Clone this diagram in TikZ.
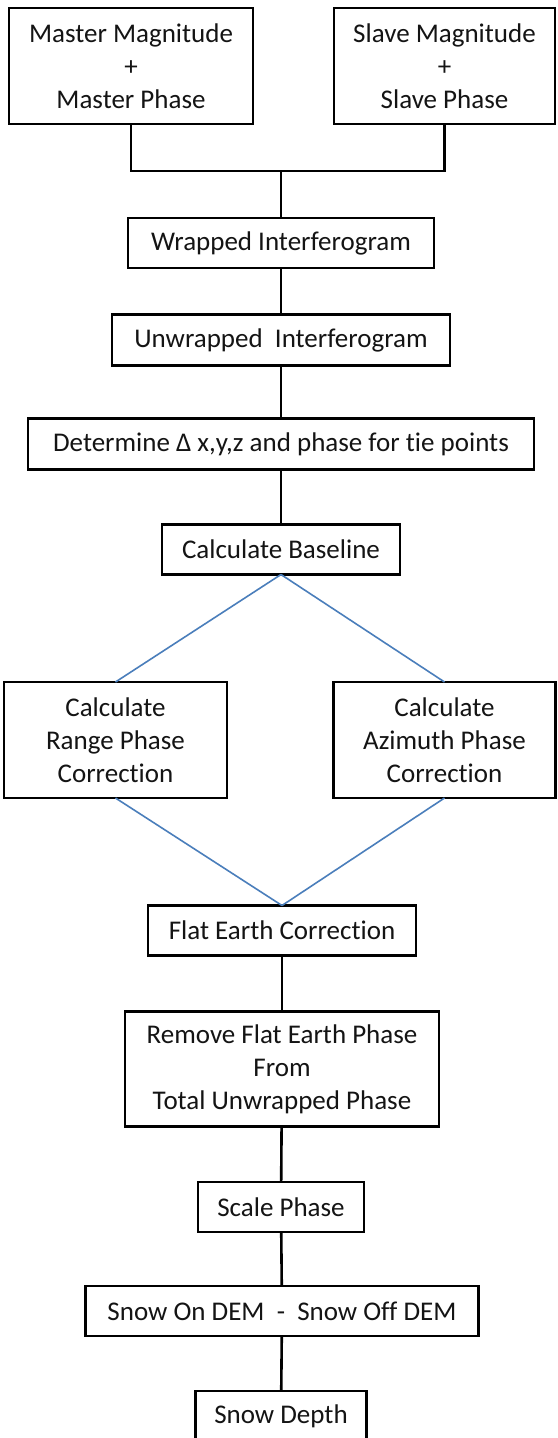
\documentclass[tikz,border=0pt]{standalone}
\usepackage{fontspec}
\setmainfont[Ligatures=NoCommon]{Carlito}
\definecolor{linkblue}{RGB}{74,126,187}
\definecolor{txt}{RGB}{20,20,20}
\begin{document}
\begin{tikzpicture}[x=1pt,y=-1pt,
  box/.style={draw=black,line width=2.6pt,fill=white,inner sep=0pt,outer sep=0pt,
    align=center,text=txt,font=\fontsize{27}{33}\selectfont},
  conn/.style={draw=black,line width=2.6pt},
  blueconn/.style={draw=linkblue,line width=1.6pt}]
\useasboundingbox (0,0) rectangle (557,1438);
\fill[white] (0,0) rectangle (557,1438);
\node[box,minimum width=244pt,minimum height=116pt] (master) at (131,66) {Master Magnitude\\+\\Master Phase};
\node[box,minimum width=221pt,minimum height=116pt] (slave) at (444.5,66) {Slave Magnitude\\+\\Slave Phase};
\node[box,minimum width=306pt,minimum height=50pt] (wrapped) at (281,243) {Wrapped Interferogram};
\node[box,minimum width=338pt,minimum height=51pt] (unwrapped) at (281,340) {Unwrapped\ \ Interferogram};
\node[box,minimum width=506pt,minimum height=51pt] (determine) at (281,444) {Determine Δ x,y,z and phase for tie points};
\node[box,minimum width=238pt,minimum height=50pt] (baseline) at (281,549.5) {Calculate Baseline};
\node[box,minimum width=223pt,minimum height=116pt] (range) at (115.5,740) {Calculate\\Range Phase\\Correction};
\node[box,minimum width=222pt,minimum height=116pt] (azimuth) at (444.5,740) {Calculate\\Azimuth Phase\\Correction};
\node[box,minimum width=268pt,minimum height=50pt] (flat) at (282,930.5) {Flat Earth Correction};
\node[box,minimum width=314pt,minimum height=115pt] (remove) at (282,1069) {Remove Flat Earth Phase\\From\\Total Unwrapped Phase};
\node[box,minimum width=166pt,minimum height=50pt] (scale) at (281,1207) {Scale Phase};
\node[box,minimum width=393pt,minimum height=50pt] (snowon) at (282,1311) {Snow On DEM\ \ -\ \ Snow Off DEM};
\node[box,minimum width=171pt,minimum height=51pt] (depth) at (281,1416.5) {Snow Depth};
\coordinate (j) at (281,171);
\draw[conn] (master.south) |- (j);
\draw[conn] (slave.south) |- (j);
\draw[conn] (j) -- (wrapped.north);
\draw[conn] (wrapped) -- (unwrapped);
\draw[conn] (unwrapped) -- (determine);
\draw[conn] (determine) -- (baseline);
\draw[blueconn] (baseline.south) -- (range.north);
\draw[blueconn] (baseline.south) -- (azimuth.north);
\draw[blueconn] (range.south) -- (flat.north);
\draw[blueconn] (azimuth.south) -- (flat.north);
\draw[conn] (flat) -- (remove);
\draw[conn] (remove) -- (scale);
\draw[conn] (scale) -- (snowon);
\draw[conn] (snowon) -- (depth);
\end{tikzpicture}
\end{document}
